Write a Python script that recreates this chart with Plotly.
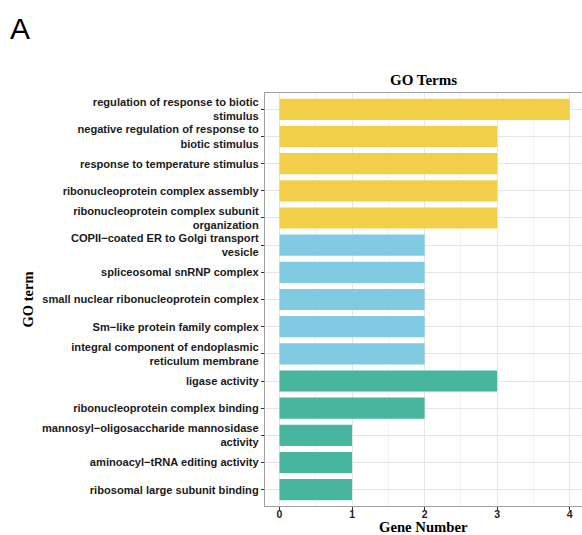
import plotly.graph_objects as go

# GO enrichment terms (top to bottom) and gene counts
terms = [
    "regulation of response to biotic<br>stimulus",
    "negative regulation of response to<br>biotic stimulus",
    "response to temperature stimulus",
    "ribonucleoprotein complex assembly",
    "ribonucleoprotein complex subunit<br>organization",
    "COPII\u2212coated ER to Golgi transport<br>vesicle",
    "spliceosomal snRNP complex",
    "small nuclear ribonucleoprotein complex",
    "Sm\u2212like protein family complex",
    "integral component of endoplasmic<br>reticulum membrane",
    "ligase activity",
    "ribonucleoprotein complex binding",
    "mannosyl\u2212oligosaccharide mannosidase<br>activity",
    "aminoacyl\u2212tRNA editing activity",
    "ribosomal large subunit binding",
]
gene_number = [4, 3, 3, 3, 3, 2, 2, 2, 2, 2, 3, 2, 1, 1, 1]
category = ["BP"] * 5 + ["CC"] * 5 + ["MF"] * 5
x_ticks = [0, 1, 2, 3, 4]

palette = {"BP": "#F2CF48", "CC": "#80CBE2", "MF": "#48B69E"}

fig = go.Figure(
    go.Bar(
        x=gene_number,
        y=terms,
        orientation="h",
        width=0.78,
        marker=dict(color=[palette[c] for c in category], line=dict(width=0)),
        showlegend=False,
    )
)

serif = "Liberation Serif, Times New Roman, serif"
sans = "Liberation Sans, Arial, sans-serif"

L, R, T, B = 265, 0, 93, 29
W, H = 582, 535
pw, ph = W - L - R, H - T - B

fig.update_layout(
    width=W,
    height=H,
    margin=dict(l=L, r=R, t=T, b=B),
    paper_bgcolor="white",
    plot_bgcolor="white",
    annotations=[
        # panel letter, placed in page pixels
        dict(text="A", x=(8 - L) / pw, y=1 + (T - 10) / ph, xref="paper", yref="paper",
             showarrow=False, xanchor="left", yanchor="top",
             font=dict(family=sans, size=30, color="black")),
        dict(text="GO Terms", x=0.5, y=1, xref="paper", yref="paper", yshift=3,
             showarrow=False, xanchor="center", yanchor="bottom",
             font=dict(family=serif, size=15, color="black", weight="bold")),
        dict(text="Gene Number", x=0.5, y=0, xref="paper", yref="paper", yshift=-21,
             showarrow=False, xanchor="center", yanchor="middle",
             font=dict(family=serif, size=14.7, color="black", weight="bold")),
        dict(text="GO term", x=0, y=0.5, xref="paper", yref="paper", xshift=-238,
             showarrow=False, xanchor="center", yanchor="middle", textangle=-90,
             font=dict(family=serif, size=14.5, color="black", weight="bold")),
    ],
)

fig.update_xaxes(
    range=[-0.2, 4.17],
    tickvals=x_ticks,
    ticktext=[str(v) for v in x_ticks],
    ticks="outside",
    ticklen=3,
    tickcolor="#333333",
    ticklabelstandoff=-5,
    tickfont=dict(family=sans, size=10.5, color="#222222", weight="bold"),
    showgrid=True,
    gridcolor="#E6E6E6",
    gridwidth=1,
    minor=dict(dtick=0.5, tick0=0, showgrid=True, gridcolor="#F3F3F3", gridwidth=1),
    showline=True,
    linecolor="#A0A0A0",
    linewidth=1.2,
    mirror=True,
    zeroline=False,
)
fig.update_yaxes(
    range=[14.6, -0.6],
    ticks="outside",
    ticklen=3,
    tickcolor="#333333",
    tickfont=dict(family=sans, size=11.1, color="#1a1a1a", weight="bold"),
    showgrid=True,
    gridcolor="#E6E6E6",
    gridwidth=1,
    showline=True,
    linecolor="#A0A0A0",
    linewidth=1.2,
    zeroline=False,
)

fig.write_html("out.html")
